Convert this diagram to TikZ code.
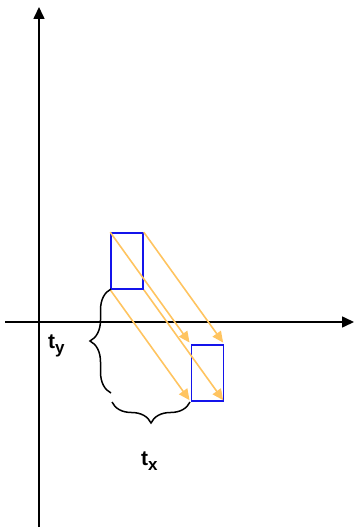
\documentclass[tikz,border=0pt]{standalone}
\usepackage{fontspec}
\setmainfont{Liberation Sans}
\usetikzlibrary{arrows.meta,decorations.pathreplacing}
\definecolor{boxblue}{RGB}{20,20,235}
\definecolor{arrorange}{RGB}{255,196,96}
\newcommand{\sublbl}[1]{\raisebox{-5.5pt}{\fontsize{17}{17}\selectfont #1}}
\tikzset{
  axis/.style={line width=1.6pt,-{Triangle[length=12pt,width=11pt]}},
  movebox/.style={draw=boxblue,line width=1.6pt,minimum width=32pt,minimum height=56pt,inner sep=0pt},
  movearrow/.style={draw=arrorange,line width=1.6pt,-{Triangle[length=11pt,width=10pt]},shorten >=2pt},
  bracestyle/.style={line width=1.5pt,decorate,decoration={brace,amplitude=21pt}},
  lbl/.style={font=\bfseries\fontsize{21}{22}\selectfont,inner sep=0pt,anchor=base west}
}
\begin{document}
\begin{tikzpicture}[x=1pt,y=-1pt]
\useasboundingbox (0,0) rectangle (354,529);
\coordinate (xs) at (5,322);
\coordinate (xe) at (354,322);
\coordinate (ys) at (39,527);
\coordinate (ye) at (39,7);
\draw[axis] (xs) -- (xe);
\draw[axis] (ys) -- (ye);
\node[movebox] (r1) at (127,261) {};
\node[movebox] (r2) at (207.5,373) {};
\draw[movearrow] (r1.north west) -- (r2.north west);
\draw[movearrow] (r1.north east) -- (r2.north east);
\draw[movearrow] (r1.south west) -- (r2.south west);
\draw[movearrow] (r1.south east) -- (r2.south east);
\coordinate (bya) at (111,289);
\coordinate (byb) at (111,393);
\draw[bracestyle] (byb) -- (bya);
\coordinate (bxa) at (112,402);
\coordinate (bxb) at (190,402);
\draw[bracestyle] (bxb) -- (bxa);
\node[lbl] (ty) at (48,348) {t\sublbl{y}};
\node[lbl] (tx) at (141,465) {t\sublbl{x}};
\end{tikzpicture}
\end{document}
